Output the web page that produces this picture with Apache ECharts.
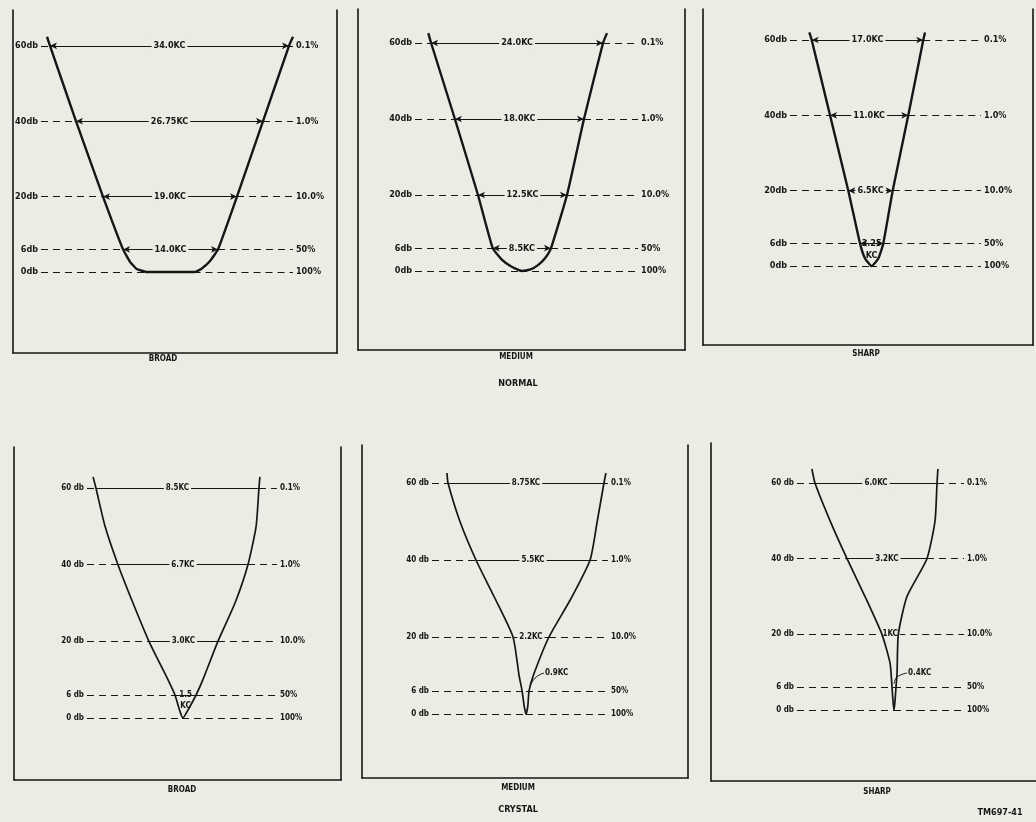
<!DOCTYPE html>
<html><head><meta charset="utf-8">
<script src="https://cdn.jsdelivr.net/npm/echarts@6/dist/echarts.min.js"></script>
<style>html,body{margin:0;padding:0;background:#ecebe4;}#c{width:1036px;height:822px;}</style>
</head><body><div id="c"></div>
<script>
// ---------- DATA ----------
const levelsDb = [60, 40, 20, 6, 0];
const dbLabelsNormal = ['60db', '40db', '20db', '6db', '0db'];
const dbLabelsCrystal = ['60 db', '40 db', '20 db', '6 db', '0 db'];
const pctLabels = ['0.1%', '1.0%', '10.0%', '50%', '100%'];

const bw1 = ['34.0KC', '26.75KC', '19.0KC', '14.0KC'];
const bw2 = ['24.0KC', '18.0KC', '12.5KC', '8.5KC'];
const bw3 = ['17.0KC', '11.0KC', '6.5KC', '3.25\nKC'];
const bw4 = ['8.5KC', '6.7KC', '3.0KC', '1.5\nKC'];
const bw5 = ['8.75KC', '5.5KC', '2.2KC', '0.9KC'];
const bw6 = ['6.0KC', '3.2KC', '1KC', '0.4KC'];

// curve crossings (kc offset from resonance) at 60/40/20/6 db
const cross1L = [-17.07, -13.36, -9.5, -6.64], cross1R = [17.07, 13.36, 9.64, 6.93];
const cross2L = [-12.7, -9.3, -6.0, -3.9],     cross2R = [11.86, 9.14, 6.71, 4.43];
const cross3L = [-8.33, -5.71, -3.1, -1.43],   cross3R = [7.61, 5.47, 3.24, 1.9];
const cross4L = [-4.53, -3.37, -1.74, -0.37],  cross4R = [4.05, 3.47, 1.89, 0.74];
const cross5L = [-4.38, -2.81, -0.73, -0.22],  cross5R = [4.38, 3.6, 1.29, 0.17];
const cross6L = [-4.39, -2.61, -0.67, -0.11],  cross6R = [2.39, 1.83, 0.24, 0.11];

// selectivity curves [kc offset, db down]
const curve1 = [[-17.5,62.4],[-17.07,60],[-13.36,40],[-9.5,20],[-6.64,6],[-5.64,2.7],[-4.69,0.8],[-3.2,0],[0.2,0],[3.64,0],[4.53,0.8],[5.69,2.7],[6.93,6],[9.64,20],[13.36,40],[17.07,60],[17.64,62.4]];
const curve2 = [[-13.1,62.6],[-12.7,60],[-9.3,40],[-6.0,20],[-3.9,6],[-2.6,3],[-1.19,1.1],[0.24,0],[1.5,0.4],[2.62,1.6],[3.6,3.4],[4.43,6],[6.71,20],[9.14,40],[11.86,60],[12.43,62.6]];
const curve3 = [[-8.67,62],[-8.33,60],[-5.71,40],[-3.1,20],[-1.43,6],[-0.71,2],[0.24,0],[1.19,2],[1.9,6],[3.24,20],[5.47,40],[7.61,60],[7.86,62]];
const curve4 = [[-4.68,62.9],[-4.53,60],[-4.05,50],[-3.37,40],[-2.58,30],[-1.74,20],[-0.74,10],[-0.37,6],[-0.1,1.6],[0.05,0],[0.26,1.6],[0.74,6],[1.1,10],[1.89,20],[2.79,30],[3.47,40],[3.9,50],[4.05,60],[4.1,62.9]];
const curve5 = [[-4.44,62.6],[-4.38,60],[-3.71,50],[-2.81,40],[-1.74,30],[-0.73,20],[-0.39,10],[-0.22,6],[-0.1,2],[0,0],[0.1,2],[0.17,6],[0.41,10],[1.29,20],[2.53,30],[3.6,40],[4.0,50],[4.38,60],[4.49,62.6]];
const curve6 = [[-4.56,63.7],[-4.39,60],[-3.55,50],[-2.61,40],[-1.61,30],[-0.67,20],[-0.22,12.4],[-0.11,6],[-0.05,2],[0,0],[0.05,2],[0.11,6],[0.17,9.8],[0.24,20],[0.72,30],[1.83,40],[2.28,50],[2.39,60],[2.44,63.7]];

// leader lines for the narrow 6 db bandwidths
const pointer5 = [[1.01,10.65],[0.51,9.35],[0.22,7.0]];
const pointer6 = [[0.72,9.78],[0.17,8.7],[0,6.9]];

const captionTexts = ['BROAD', 'MEDIUM', 'SHARP', 'BROAD', 'MEDIUM', 'SHARP'];
const groupTexts = ['NORMAL', 'CRYSTAL'];
const figureId = 'TM697-41';

// ---------- LAYOUT (pixel geometry of each panel) ----------
const layout = [
  {box:[13,10,337,353],  y0:272, ppd:3.77,  cx:169.5, ppk:7,    ext:[-18.36,17.64], right:true,  fs:9, lw:2.4, sm:0.12, arrows:true,  six:'line',    cap:[163,359]},
  {box:[358,9,685,350],  y0:271, ppd:3.8,   cx:520,   ppk:7,    ext:[-15,16.86],    right:true,  fs:9, lw:2.4, sm:0.15, arrows:true,  six:'line',    cap:[516,357]},
  {box:[703,9,1033,345], y0:266, ppd:3.767, cx:870,   ppk:7,    ext:[-11.43,15.86], right:true,  fs:9, lw:2.4, sm:0.15, arrows:true,  six:'stack',   cap:[866,354]},
  {box:[14,447,341,780], y0:718, ppd:3.833, cx:182,   ppk:19,   ext:[-5,5],         right:true,  fs:8, lw:1.7, sm:0.2,  arrows:false, six:'stack',   cap:[182,790]},
  {box:[362,445,688,778],y0:714, ppd:3.85,  cx:526,   ppk:17.8, ext:[-5.28,4.6],    right:true,  fs:8, lw:1.7, sm:0.2,  arrows:false, six:'pointer', cap:[518,788]},
  {box:[711,443,1036,781],y0:710,ppd:3.783, cx:894,   ppk:18,   ext:[-5.39,3.89],   right:false, fs:8, lw:1.7, sm:0.2,  arrows:false, six:'pointer', cap:[877,792]}
];
const groupPos = [[518,384],[518,810]];
const figIdPos = [1000,813];

const curves = [curve1, curve2, curve3, curve4, curve5, curve6];
const crossL = [cross1L, cross2L, cross3L, cross4L, cross5L, cross6L];
const crossR = [cross1R, cross2R, cross3R, cross4R, cross5R, cross6R];
const bws = [bw1, bw2, bw3, bw4, bw5, bw6];
const dbLabelSets = [dbLabelsNormal, dbLabelsNormal, dbLabelsNormal, dbLabelsCrystal, dbLabelsCrystal, dbLabelsCrystal];
const pointers = [null, null, null, null, pointer5, pointer6];

// ---------- BUILD ----------
const BG = '#ecebe4';
const INK = '#161616';
const FONT = '"Liberation Sans Narrow","DejaVu Sans Condensed","Roboto Condensed",sans-serif';
const grids = [], xAxes = [], yAxes = [], series = [];
const axisBase = {axisTick:{show:false}, axisLabel:{show:false}, splitLine:{show:false}};

layout.forEach((L, i) => {
  const [l, t, r, b] = L.box;
  grids.push({left:l, top:t, width:r - l, height:b - t, containLabel:false});
  xAxes.push(Object.assign({type:'value', gridIndex:i, min:(l - L.cx) / L.ppk, max:(r - L.cx) / L.ppk,
    axisLine:{show:true, onZero:false, lineStyle:{color:INK, width:1.6}}}, axisBase));
  yAxes.push(Object.assign({type:'value', gridIndex:i, position:'left', min:(L.y0 - b) / L.ppd, max:(L.y0 - t) / L.ppd,
    axisLine:{show:true, onZero:false, lineStyle:{color:INK, width:1.6}}}, axisBase));
  yAxes.push(Object.assign({type:'value', gridIndex:i, position:'right', min:(L.y0 - b) / L.ppd, max:(L.y0 - t) / L.ppd,
    axisLine:{show:L.right, onZero:false, lineStyle:{color:INK, width:1.6}}}, axisBase));

  const txt = {show:true, color:INK, fontSize:L.fs, fontWeight:'bold', fontFamily:FONT, distance:3};
  const dash = {color:INK, type:[7,5], width:1.1};
  const solid = {color:INK, type:'solid', width:1};
  const arrow = L.arrows ? 'arrow' : 'none';
  const ml = [];
  const mids = [];
  levelsDb.forEach((db, k) => {
    const dbl = dbLabelSets[i][k], pct = pctLabels[k];
    const isFull = (db === 0) || (k === 3 && L.six === 'pointer');
    if (isFull) {
      ml.push([{coord:[L.ext[0], db], symbol:'none', lineStyle:dash, label:Object.assign({}, txt, {position:'start', formatter:dbl})},
               {coord:[0, db], symbol:'none'}]);
      ml.push([{coord:[0, db], symbol:'none', lineStyle:dash, label:Object.assign({}, txt, {position:'end', formatter:pct})},
               {coord:[L.ext[1], db], symbol:'none'}]);
      return;
    }
    const xl = crossL[i][k], xr = crossR[i][k];
    ml.push([{coord:[L.ext[0], db], symbol:'none', lineStyle:dash, label:Object.assign({}, txt, {position:'start', formatter:dbl})},
             {coord:[xl, db], symbol:'none'}]);
    ml.push([{coord:[xl, db], symbol:arrow, lineStyle:solid, label:{show:false}},
             {coord:[xr, db], symbol:arrow}]);
    ml.push([{coord:[xr, db], symbol:'none', lineStyle:dash, label:Object.assign({}, txt, {position:'end', formatter:pct})},
             {coord:[L.ext[1], db], symbol:'none'}]);
    const stack = (k === 3 && L.six === 'stack');
    mids.push({value:[(xl + xr) / 2, db], label:{
      formatter:bws[i][k], backgroundColor: stack ? 'transparent' : BG,
      padding: stack ? 0 : [0,2], lineHeight: L.fs + 3,
      offset: stack ? [0, (L.fs + 3) / 2] : [0, 0]}});
  });

  series.push({
    type:'line', xAxisIndex:i, yAxisIndex:2 * i, data:curves[i], smooth:L.sm, symbol:'none',
    lineStyle:{color:INK, width:L.lw}, z:8, silent:true, animation:false,
    markLine:{silent:true, animation:false, z:3, symbolSize:[5,7], data:ml}
  });

  series.push({
    type:'scatter', xAxisIndex:i, yAxisIndex:2 * i, data:mids, symbolSize:1,
    itemStyle:{color:'rgba(0,0,0,0)', opacity:1},
    label:{show:true, position:'inside', color:INK, opacity:1, fontSize:L.fs, fontWeight:'bold', fontFamily:FONT},
    silent:true, animation:false, z:6
  });

  if (pointers[i]) {
    const pd = pointers[i].map((p, j) => j === 0
      ? {value:p, label:{show:true, position:'right', distance:1, formatter:bws[i][3], color:INK, fontSize:L.fs, fontWeight:'bold', fontFamily:FONT}}
      : {value:p});
    series.push({type:'line', xAxisIndex:i, yAxisIndex:2 * i, data:pd, smooth:true, symbol:'circle', symbolSize:0.1,
      itemStyle:{color:INK}, lineStyle:{color:INK, width:1}, silent:true, animation:false, z:5});
  }
});

const graphics = [];
const capStyle = (text, size) => ({text:text, align:'center', verticalAlign:'middle', font:'bold ' + size + 'px ' + FONT, fill:INK});
layout.forEach((L, i) => graphics.push({type:'text', x:L.cap[0], y:L.cap[1], style:capStyle(captionTexts[i], 8)}));
groupTexts.forEach((g, i) => graphics.push({type:'text', x:groupPos[i][0], y:groupPos[i][1], style:capStyle(g, 9)}));
graphics.push({type:'text', x:figIdPos[0], y:figIdPos[1], style:capStyle(figureId, 9)});

const chart = echarts.init(document.getElementById('c'));
chart.setOption({
  backgroundColor:BG,
  animation:false,
  grid:grids, xAxis:xAxes, yAxis:yAxes, series:series, graphic:graphics
});
</script></body></html>
